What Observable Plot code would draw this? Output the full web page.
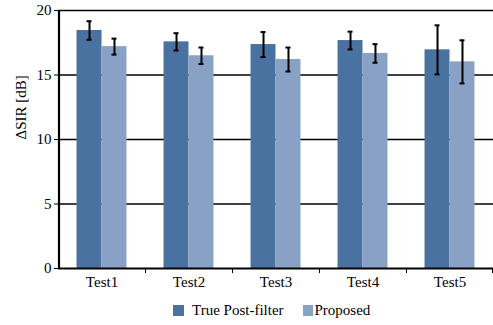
<!DOCTYPE html>
<html>
<head>
<meta charset="utf-8">
<script src="https://cdn.jsdelivr.net/npm/d3@7"></script>
<script src="https://cdn.jsdelivr.net/npm/@observablehq/plot@0.6"></script>
<style>
  html, body { margin: 0; padding: 0; background: #fff; }
  #chart { width: 493px; font-family: "Liberation Serif", "Times New Roman", serif; }
  #chart svg text { font-family: "Liberation Serif", "Times New Roman", serif; }
  #legend { display: flex; justify-content: flex-start; align-items: center; font-size: 15px; height: 30px; padding-left: 173px; }
  #legend .item { display: flex; align-items: center; }
  #legend .item + .item { margin-left: 19px; }
  #legend .sw { width: 11px; height: 11px; display: inline-block; margin-right: 8px; }
  #legend .item + .item .sw { width: 10px; margin-right: 2px; }
</style>
</head>
<body>
<div id="chart"></div>
<script>
// Mean ΔSIR per test condition and its error half-widths
const tests = ["Test1", "Test2", "Test3", "Test4", "Test5"];
const series = ["True Post-filter", "Proposed"];
const truePost = [18.45, 17.57, 17.36, 17.67, 16.95];
const truePostErr = [0.72, 0.67, 0.97, 0.69, 1.9];
const proposed = [17.2, 16.49, 16.2, 16.67, 16.02];
const proposedErr = [0.62, 0.64, 0.93, 0.72, 1.67];
const yTicks = [0, 5, 10, 15, 20];
const colors = ["#4a72a0", "#8aa1c6"];

const rows = [
  ...tests.map((t, i) => ({test: t, series: series[0], value: truePost[i], err: truePostErr[i]})),
  ...tests.map((t, i) => ({test: t, series: series[1], value: proposed[i], err: proposedErr[i]}))
];

const serif = '"Liberation Serif", "Times New Roman", serif';
const width = 493, height = 295;
const marginLeft = 58, marginRight = 0, marginTop = 10, marginBottom = 27;
const step = (width - marginLeft - marginRight) / tests.length;
const barFrac = 0.287;           // each bar's share of a category band
const barW = step * barFrac;
const side = step * (0.5 - barFrac);

function barMark(name, dir) {
  const data = rows.filter(d => d.series === name);
  return Plot.barY(data, {
    x: "test", y: "value", fill: colors[series.indexOf(name)],
    insetLeft: dir < 0 ? side : step / 2,
    insetRight: dir < 0 ? step / 2 : side
  });
}
function errMarks(name, dir) {
  const data = rows.filter(d => d.series === name);
  const dx = dir * barW / 2;
  const capInset = step / 2 - 2.5;
  return [
    Plot.ruleX(data, {x: "test", y1: d => d.value - d.err, y2: d => d.value + d.err, dx, stroke: "#000", strokeWidth: 2}),
    Plot.tickY(data, {x: "test", y: d => d.value + d.err, dx, insetLeft: capInset, insetRight: capInset, stroke: "#000", strokeWidth: 2}),
    Plot.tickY(data, {x: "test", y: d => d.value - d.err, dx, insetLeft: capInset, insetRight: capInset, stroke: "#000", strokeWidth: 2})
  ];
}

const plot = Plot.plot({
  width, height, marginLeft, marginRight, marginTop, marginBottom,
  style: {fontFamily: serif, fontSize: "15px", color: "#000", background: "#fff"},
  x: {type: "band", domain: tests, padding: 0, axis: null},
  y: {domain: [0, 20], axis: null},
  marks: [
    Plot.gridY(yTicks.filter(v => v > 0), {stroke: "#000", strokeOpacity: 1, strokeWidth: 1.6}),
    barMark(series[0], -1),
    barMark(series[1], 1),
    ...errMarks(series[0], -1),
    ...errMarks(series[1], 1),
    Plot.ruleY([0], {stroke: "#000", strokeWidth: 2.2}),
    Plot.ruleX([tests[0]], {dx: -step / 2 + 0.5, stroke: "#000", strokeWidth: 2.2}),
    Plot.axisY({ticks: yTicks, tickSize: 4, tickPadding: 3, tickFormat: d => d, label: null, fontSize: 15}),
    Plot.axisX({tickSize: 0, tickPadding: 8, label: null, fontSize: 15}),
    Plot.axisX({ticks: tests.slice(1), tickSize: 5, tickFormat: () => "", dx: -step / 2, label: null}),
    Plot.axisX({ticks: [tests[tests.length - 1]], tickSize: 5, tickFormat: () => "", dx: step / 2 - 1, label: null}),
    Plot.text(["ΔSIR [dB]"], {frameAnchor: "left", dx: -37, rotate: -90, fontSize: 15, text: d => d})
  ]
});

const chart = document.getElementById("chart");
chart.appendChild(plot);

const legend = document.createElement("div");
legend.id = "legend";
series.forEach((s, i) => {
  const item = document.createElement("span");
  item.className = "item";
  const sw = document.createElement("span");
  sw.className = "sw";
  sw.style.background = colors[i];
  item.appendChild(sw);
  item.appendChild(document.createTextNode(s));
  legend.appendChild(item);
});
chart.appendChild(legend);
</script>
</body>
</html>
